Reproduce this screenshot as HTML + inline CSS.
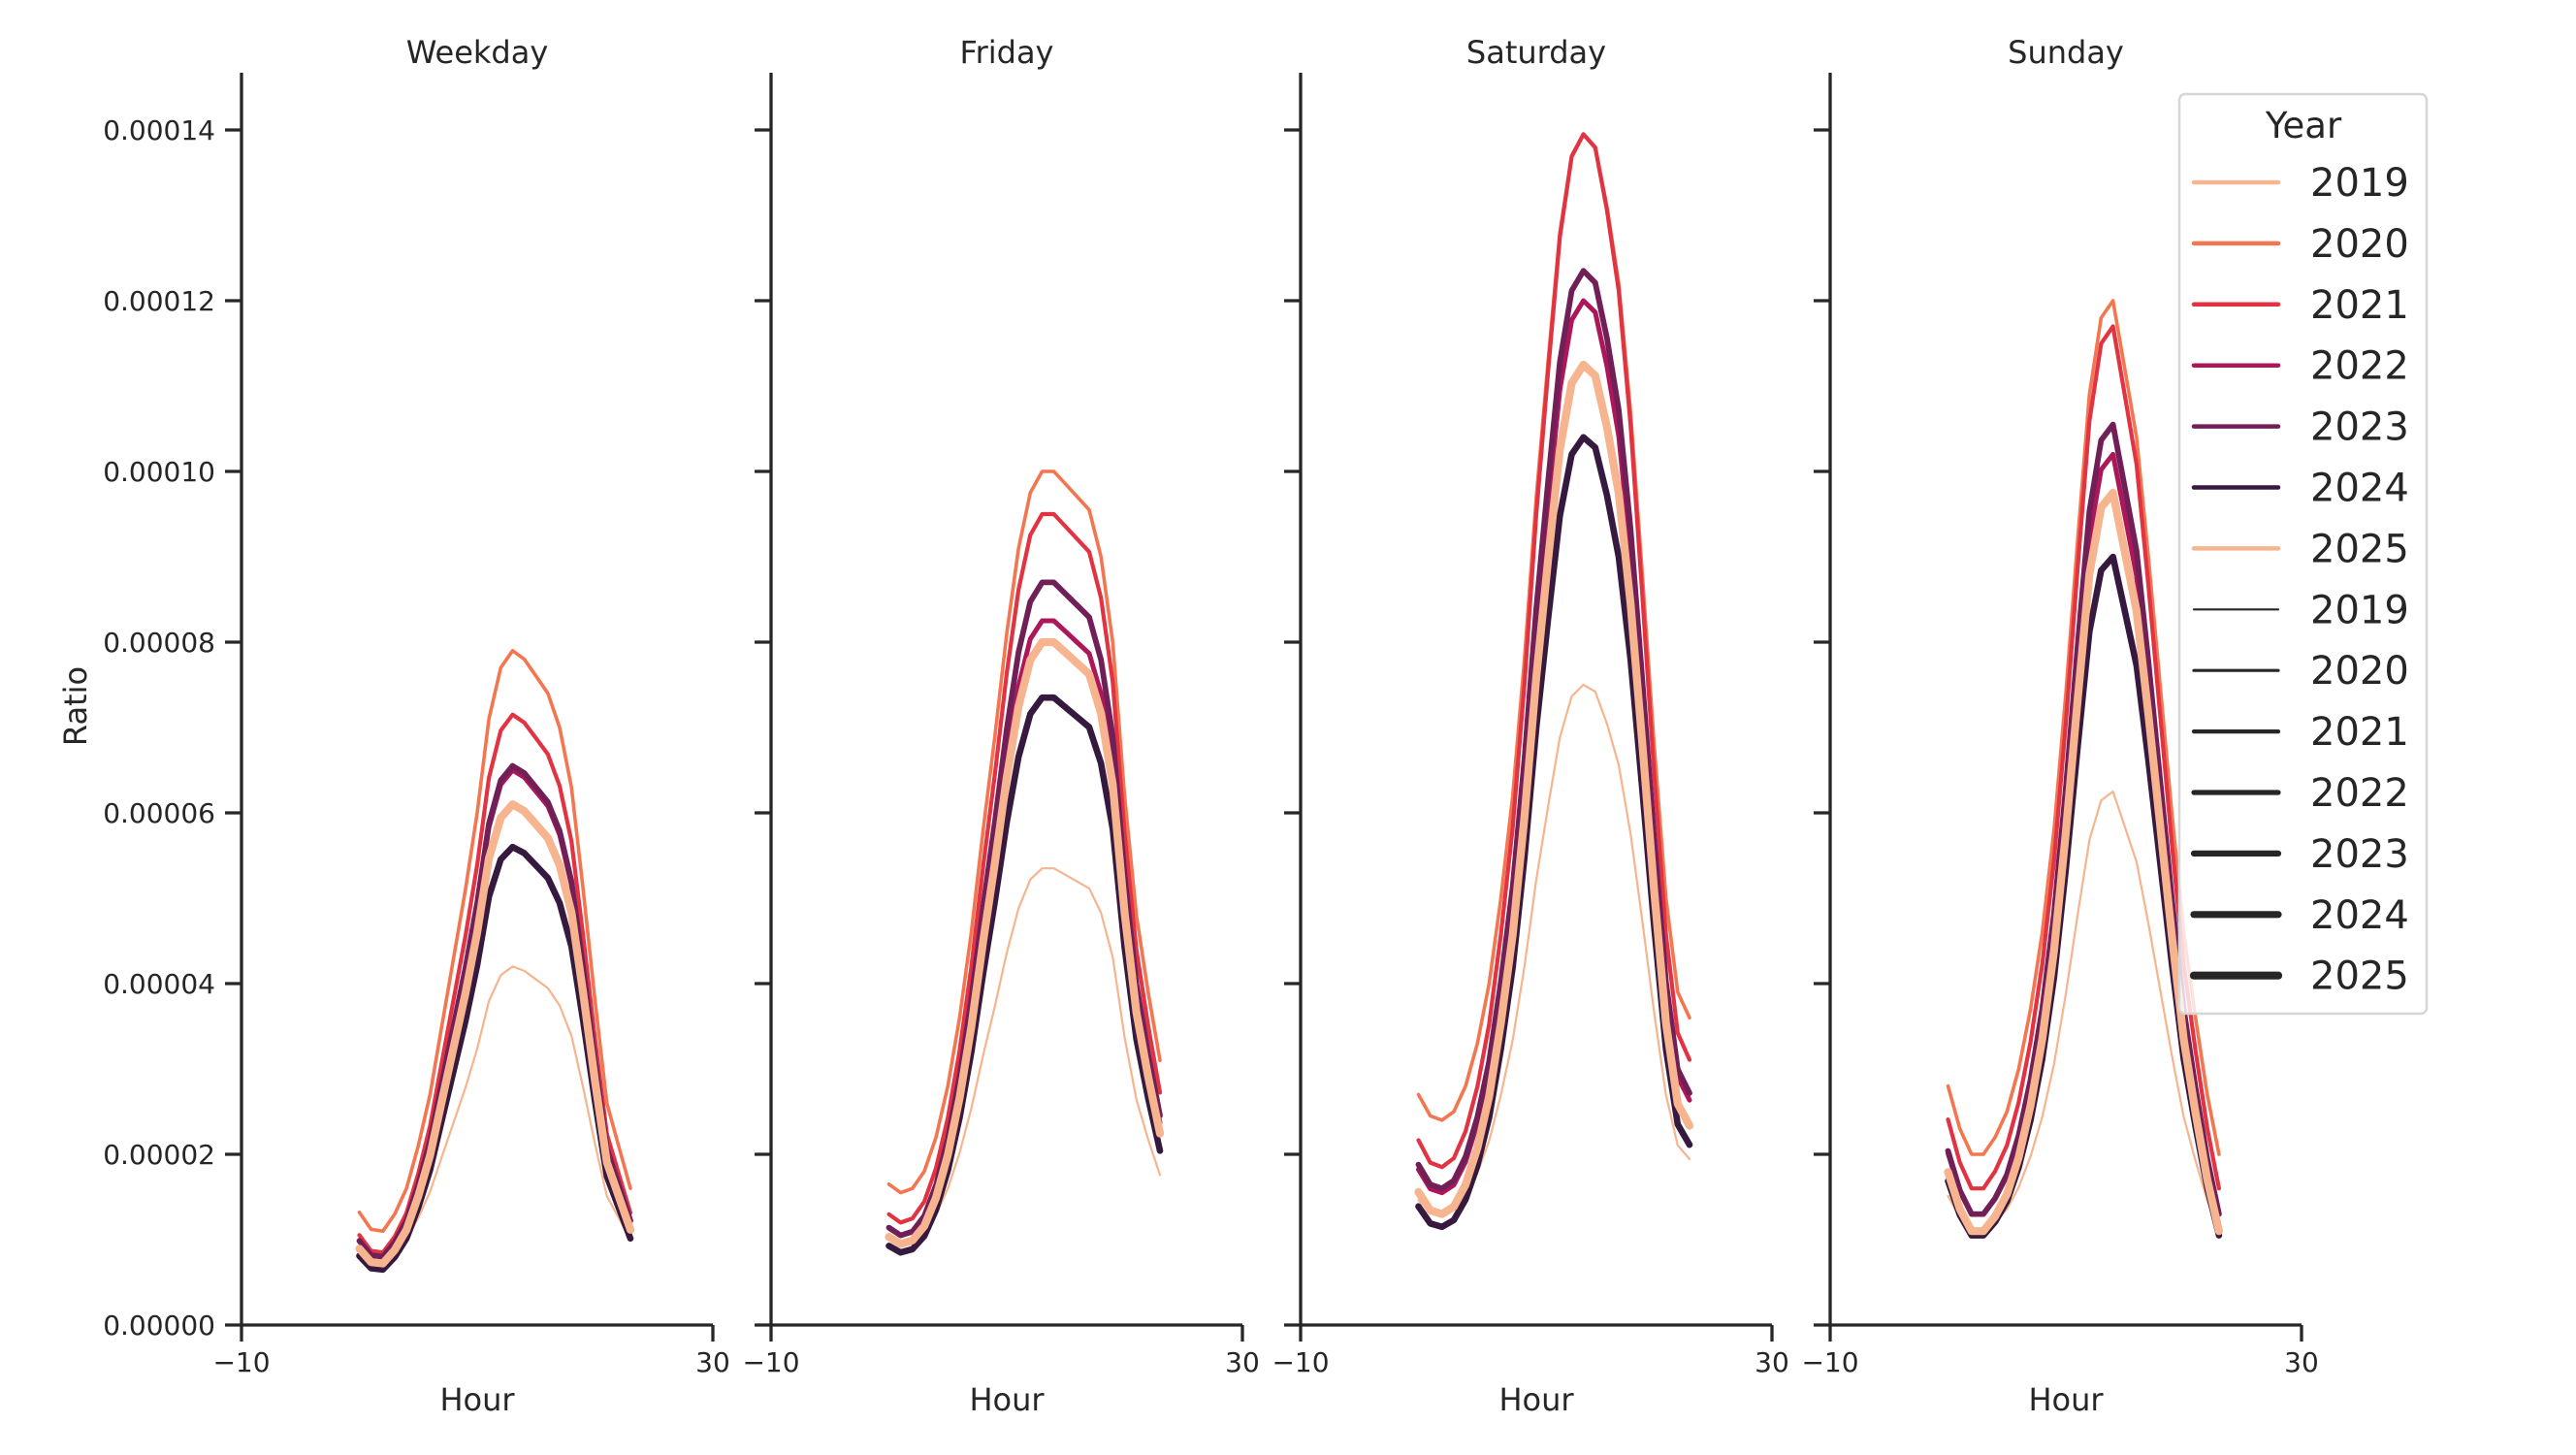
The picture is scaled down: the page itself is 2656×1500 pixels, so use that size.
<!DOCTYPE html>
<html><head><meta charset="utf-8"><style>
html,body{margin:0;padding:0;background:#fff;}
svg{display:block;font-family:"DejaVu Sans","Liberation Sans",sans-serif;}
</style></head><body>
<svg id="s" width="2656" height="1500" viewBox="0 0 2656 1500" xmlns="http://www.w3.org/2000/svg"></svg>
<script>
const NS="http://www.w3.org/2000/svg";
const svg=document.getElementById('s');
function el(t,a,txt){const e=document.createElementNS(NS,t);for(const k in a)e.setAttribute(k,a[k]);if(txt!==undefined)e.textContent=txt;svg.appendChild(e);return e;}
const Y0=1366, STEP=176;
const PX=[249,795,1341,1887], PW=486;
const yv=v=>Y0-v/2*STEP;
const xh=(p,h)=>PX[p]+(h+10)/40*PW;
const C='#262626';
const titles=['Weekday','Friday','Saturday','Sunday'];
const colors=['#f6b48f','#f37651','#e13342','#ad1759','#701f57','#35193e','#f6b48f'];
const widths=[2.2,3.6,4.2,5.0,5.8,6.6,8.2];
const shapes=[
[1.32,1.12,1.1,1.3,1.6,2.1,2.7,3.5,4.3,5.1,6.0,7.1,7.7,7.9,7.8,7.6,7.4,7.0,6.3,5.1,3.8,2.6,2.1,1.6],
[1.65,1.55,1.6,1.8,2.2,2.8,3.6,4.6,5.8,6.9,8.1,9.1,9.75,10.0,10.0,9.85,9.7,9.55,9.0,8.0,6.2,4.8,3.9,3.1],
[2.7,2.45,2.4,2.5,2.8,3.3,4.0,5.0,6.2,7.8,9.7,11.3,12.8,13.7,13.95,13.8,13.1,12.2,10.7,8.8,6.8,5.0,3.9,3.6],
[2.8,2.3,2.0,2.0,2.2,2.5,3.0,3.7,4.6,5.8,7.4,9.2,10.9,11.8,12.0,11.2,10.4,9.0,7.5,6.0,4.6,3.6,2.7,2.0]];
const spec=[
[[0.75,4.2],[1.1,7.9],[0.85,7.15],[0.8,6.5],[0.8,6.55],[0.65,5.6],[0.72,6.1]],
[[0.95,5.35],[1.55,10.0],[1.2,9.5],[1.05,8.25],[1.05,8.7],[0.85,7.35],[0.95,8.0]],
[[1.3,7.5],[2.4,13.95],[1.85,13.95],[1.55,12.0],[1.6,12.35],[1.15,10.4],[1.3,11.25]],
[[1.1,6.25],[2.0,12.0],[1.6,11.7],[1.3,10.2],[1.3,10.55],[1.05,9.0],[1.1,9.75]]];
for(let p=0;p<4;p++){
  const x0=PX[p];
  el('line',{x1:x0,y1:75,x2:x0,y2:Y0,stroke:C,'stroke-width':3.3});
  el('line',{x1:x0,y1:Y0,x2:x0+PW,y2:Y0,stroke:C,'stroke-width':3.3});
  for(let i=0;i<=7;i++){const y=yv(i*2);
    el('line',{x1:x0-17,y1:y,x2:x0,y2:y,stroke:C,'stroke-width':3.3});
    if(p==0) el('text',{x:222,y:y+10,'font-size':28,'text-anchor':'end',fill:C},(i*2e-5).toFixed(5));
  }
  [[-10,'\u221210'],[30,'30']].forEach(([h,t])=>{const x=xh(p,h);
    el('line',{x1:x,y1:Y0,x2:x,y2:Y0+17,stroke:C,'stroke-width':3.3});
    el('text',{x:x,y:1414,'font-size':28,'text-anchor':'middle',fill:C},t);});
  el('text',{x:x0+PW/2,y:1454,'font-size':32,'text-anchor':'middle',fill:C},'Hour');
  el('text',{x:x0+PW/2,y:65,'font-size':32,'text-anchor':'middle',fill:C},titles[p]);
  const sh=shapes[p], mn=Math.min(...sh), mx=Math.max(...sh);
  for(let k=0;k<7;k++){const [a,b]=spec[p][k];
    const pts=sh.map((v,h)=>{const n=(v-mn)/(mx-mn);const val=a+(b-a)*n;return xh(p,h).toFixed(1)+','+yv(val).toFixed(1);}).join(' ');
    el('polyline',{points:pts,fill:'none',stroke:colors[k],'stroke-width':widths[k],'stroke-linejoin':'round','stroke-linecap':'round'});
  }
}
el('text',{x:0,y:0,'font-size':32,'text-anchor':'middle',fill:C,transform:'translate(89,728) rotate(-90)'},'Ratio');
el('rect',{x:2247,y:97,width:255,height:948,rx:6,fill:'#fff','fill-opacity':0.8,stroke:'#d6d6d6','stroke-width':2.5});
el('text',{x:2375,y:142,'font-size':37,'text-anchor':'middle',fill:C},'Year');
const lw=[2.2,3.2,4.2,5.2,6.2,7.2,8.2];
for(let i=0;i<14;i++){const y=188+i*62.9;
  if(i<7) el('line',{x1:2262,y1:y,x2:2349,y2:y,stroke:colors[i],'stroke-width':4.5,'stroke-linecap':'round'});
  else el('line',{x1:2262,y1:y,x2:2349,y2:y,stroke:C,'stroke-width':lw[i-7],'stroke-linecap':'round'});
  el('text',{x:2382,y:y+14,'font-size':40,fill:C},String(2019+(i%7)));
}
</script>
</body></html>
